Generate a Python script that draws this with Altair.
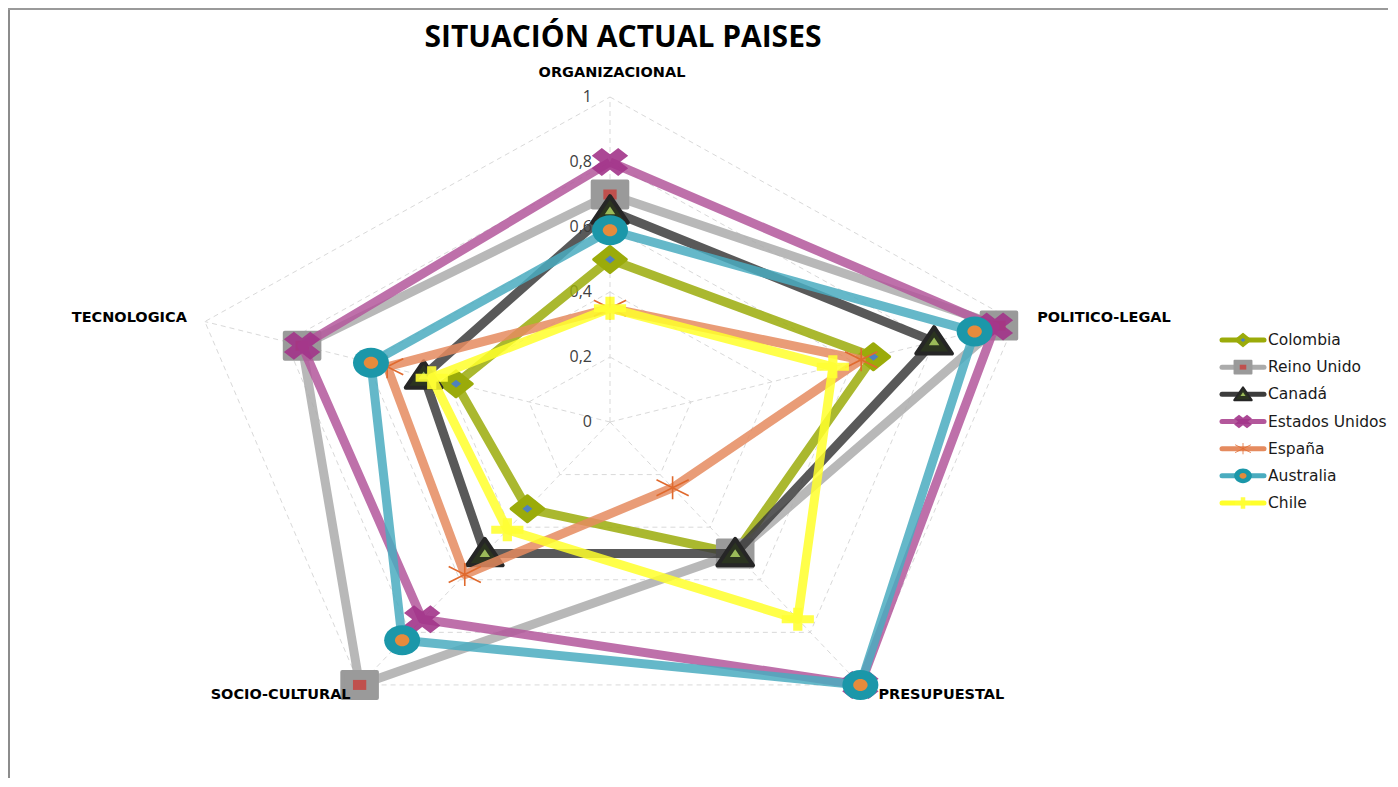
import altair as alt
import pandas as pd

# ---------------- data ----------------
title_text = "SITUACIÓN ACTUAL PAISES"
axes_names = ["ORGANIZACIONAL", "POLITICO-LEGAL", "PRESUPUESTAL", "SOCIO-CULTURAL", "TECNOLOGICA"]
countries = ["Colombia", "Reino Unido", "Canadá", "Estados Unidos", "España", "Australia", "Chile"]
colombia = [0.50, 0.65, 0.50, 0.33, 0.38]
reino_unido = [0.70, 0.96, 0.50, 1.00, 0.76]
canada = [0.65, 0.80, 0.50, 0.50, 0.46]
estados_unidos = [0.80, 0.95, 1.00, 0.75, 0.76]
espana = [0.35, 0.62, 0.25, 0.58, 0.55]
australia = [0.59, 0.90, 1.00, 0.83, 0.59]
chile = [0.35, 0.55, 0.75, 0.41, 0.44]
series_values = [colombia, reino_unido, canada, estados_unidos, espana, australia, chile]
tick_levels = [0, 0.2, 0.4, 0.6, 0.8, 1.0]
tick_labels = ["0", "0,2", "0,4", "0,6", "0,8", "1"]
grid_levels = [0.2, 0.4, 0.6, 0.8, 1.0]

# ---------------- styles ----------------
line_colors = ["#9BAB0A", "#ABABAB", "#3C3C3C", "#B3579B", "#E58B5F", "#4AACBF", "#FFFF2A"]

DIAMOND = "M-1.25,0L0,-1L1.25,0L0,1Z"
RECT = "M-1.33,-1L1.33,-1L1.33,1L-1.33,1Z"
TRI = "M0,-1.1L1.35,0.9L-1.35,0.9Z"
d = 0.55
s = 1.3
XSHAPE = (f"M{(-1+d)*s},-1L{1*s},{1-d}L{(1-d)*s},1L{-1*s},{-1+d}Z"
          f"M{-1*s},{1-d}L{(1-d)*s},-1L{1*s},{-1+d}L{(-1+d)*s},1Z")
STAR = "M0,-1L0,1M-1.4,-0.7L1.4,0.7M-1.4,0.7L1.4,-0.7"
ELLIPSE = "M-1.2,0A1.2,1,0,1,0,1.2,0A1.2,1,0,1,0,-1.2,0Z"
PLUS = "M-1.4,-0.35L1.4,-0.35L1.4,0.35L-1.4,0.35ZM-0.4,-1L0.4,-1L0.4,1L-0.4,1Z"

# marker layers per country: (shape, size, fill, stroke, strokeWidth, filled, opacity)
markers = {
    "Colombia": [(DIAMOND, 676, "#9BAB0A", "#9BAB0A", 3, True, 1), (DIAMOND, 64, "#4F81BD", None, 0, True, 1)],
    "Reino Unido": [(RECT, 676, "#9A9A9A", "#9A9A9A", 4, True, 1), (RECT, 100, "#C0504D", None, 0, True, 1)],
    "Canadá": [(TRI, 700, "#2B3420", "#262626", 4, True, 1), (TRI, 60, "#9BBB59", None, 0, True, 1)],
    "Estados Unidos": [(XSHAPE, 784, "#A2348A", None, 0, True, 0.9)],
    "España": [(STAR, 529, None, "#E06A2E", 1.6, False, 1)],
    "Australia": [(ELLIPSE, 900, "#1B97A9", None, 0, True, 1), (ELLIPSE, 144, "#E68B3C", None, 0, True, 1)],
    "Chile": [(PLUS, 529, "#FFFF33", None, 0, True, 0.9)],
}

# ---------------- geometry of plot area ----------------
W, H = 1380, 710
PX_X, PX_Y = 426.0, 325.0
CX, CY = 610 - 8, 422 - 68  # centre inside plot group
XMIN = -CX / PX_X
XMAX = XMIN + W / PX_X
YMAX = CY / PX_Y
YMIN = YMAX - H / PX_Y
XS = alt.Scale(domain=[XMIN, XMAX], nice=False, zero=False)
YS = alt.Scale(domain=[YMIN, YMAX], nice=False, zero=False)

FONT = "Open Sans"
LABEL_FONT = "DejaVu Sans"

rows = []
for c, vals in zip(countries, series_values):
    for i in range(6):
        rows.append({"country": c, "idx": i, "value": vals[i % 5]})
df = pd.DataFrame(rows)

ring_rows = []
for lv in grid_levels:
    for i in range(6):
        ring_rows.append({"level": lv, "idx": i, "value": lv})
df_rings = pd.DataFrame(ring_rows)

df_spokes = pd.DataFrame({"idx": list(range(5)), "value": [1.0] * 5})
df_ticks = pd.DataFrame({"level": tick_levels, "label": tick_labels})
df_axes = pd.DataFrame({"idx": list(range(5)), "name": axes_names})
df_leg = pd.DataFrame({"country": countries})
df_title = pd.DataFrame({"title": [title_text]})
df_one = pd.DataFrame({"k": [0]})


def polar(ch):
    return ch.transform_calculate(
        ang="2*PI*datum.idx/5"
    ).transform_calculate(
        x="datum.value*sin(datum.ang)", y="datum.value*cos(datum.ang)"
    )


def xy(xf="x", yf="y"):
    return dict(x=alt.X(f"{xf}:Q", scale=XS, axis=None), y=alt.Y(f"{yf}:Q", scale=YS, axis=None))


layers = []

# outer frame (chart-area border on the left and top)
layers.append(
    alt.Chart(df_one).mark_rule(color="#8C8C8C", strokeWidth=2).encode(
        x=alt.value(1), y=alt.value(-59), y2=alt.value(H + 10)
    )
)
layers.append(
    alt.Chart(df_one).mark_rule(color="#9A9A9A", strokeWidth=2).encode(
        x=alt.value(0), x2=alt.value(W + 10), y=alt.value(-59)
    )
)

# title
layers.append(
    alt.Chart(df_title).mark_text(
        align="center", baseline="middle", fontSize=30, font=FONT, fontWeight="bold", color="#000000"
    ).encode(x=alt.value(615), y=alt.value(-30), text="title:N")
)

# grid rings
layers.append(
    polar(alt.Chart(df_rings)).mark_line(
        color="#D9D9D9", strokeWidth=1, strokeDash=[5, 4]
    ).encode(**xy(), detail="level:N", order="idx:Q")
)
# spokes
layers.append(
    polar(alt.Chart(df_spokes)).transform_calculate(x0="0", y0="0").mark_rule(
        color="#D9D9D9", strokeWidth=1, strokeDash=[5, 4]
    ).encode(
        x=alt.X("x0:Q", scale=XS, axis=None), y=alt.Y("y0:Q", scale=YS, axis=None),
        x2="x:Q", y2="y:Q"
    )
)
# tick labels
layers.append(
    alt.Chart(df_ticks).transform_calculate(x="0", y="datum.level").mark_text(
        align="right", baseline="middle", dx=-18, fontSize=16, font=FONT, color="#404040"
    ).encode(**xy(), text="label:N")
)


def marker_layers(data_chart, specs, enc, scale=1.0):
    out = []
    for shape, size, fill, stroke, sw, filled, op in specs:
        props = dict(shape=shape, size=size * scale, filled=filled, opacity=op, strokeJoin="round")
        if fill is not None:
            props["fill"] = fill
        if stroke is not None:
            props["stroke"] = stroke
            props["strokeWidth"] = sw * (scale ** 0.5) if sw else 0
        else:
            props["strokeWidth"] = 0
        out.append(data_chart.mark_point(**props).encode(**enc))
    return out


# series
for c, col in zip(countries, line_colors):
    base = polar(alt.Chart(df).transform_filter(alt.datum.country == c))
    layers.append(
        base.mark_line(color=col, strokeWidth=9, strokeOpacity=0.85, strokeJoin="round").encode(
            **xy(), order="idx:Q"
        )
    )
    pts = base.transform_filter(alt.datum.idx < 5)
    layers.extend(marker_layers(pts, markers[c], xy()))

# axis category labels (drawn above the series)
label_style = {
    "ORGANIZACIONAL": dict(align="center", dx=2, dy=-24),
    "POLITICO-LEGAL": dict(align="left", dx=22, dy=-4),
    "PRESUPUESTAL": dict(align="left", dx=18, dy=10),
    "SOCIO-CULTURAL": dict(align="right", dx=-9, dy=10),
    "TECNOLOGICA": dict(align="right", dx=-18, dy=-4),
}
for name in axes_names:
    st = label_style[name]
    layers.append(
        polar(alt.Chart(df_axes)).transform_calculate(value="1").transform_filter(
            alt.datum.name == name
        ).transform_calculate(
            x="sin(datum.ang)", y="cos(datum.ang)"
        ).mark_text(
            baseline="middle", fontSize=14.5, fontWeight="bold", font=LABEL_FONT, color="#000000", **st
        ).encode(**xy(), text="name:N")
    )

# legend
LEG_Y = alt.Y("country:N", axis=None,
              scale=alt.Scale(type="point", domain=countries, range=[272, 435], padding=0))
for c, col in zip(countries, line_colors):
    lb = alt.Chart(df_leg).transform_filter(alt.datum.country == c)
    layers.append(
        lb.mark_rule(color=col, strokeWidth=5, strokeCap="round").encode(
            x=alt.value(1214), x2=alt.value(1256), y=LEG_Y
        )
    )
    layers.extend(marker_layers(lb, markers[c], dict(x=alt.value(1235), y=LEG_Y), scale=0.24))
layers.append(
    alt.Chart(df_leg).mark_text(
        align="left", baseline="middle", fontSize=15.5, font=LABEL_FONT, color="#1A1A1A"
    ).encode(x=alt.value(1260), y=LEG_Y, text="country:N")
)

chart = alt.layer(*layers).resolve_scale(y="independent", x="independent").properties(
    width=W, height=H,
    padding={"left": 0, "top": 60, "right": 0, "bottom": 0},
    autosize=alt.AutoSizeParams(type="none"),
    background="white",
).configure_view(stroke=None)

chart.save("out.html", embed_options={"renderer": "svg", "actions": False})
